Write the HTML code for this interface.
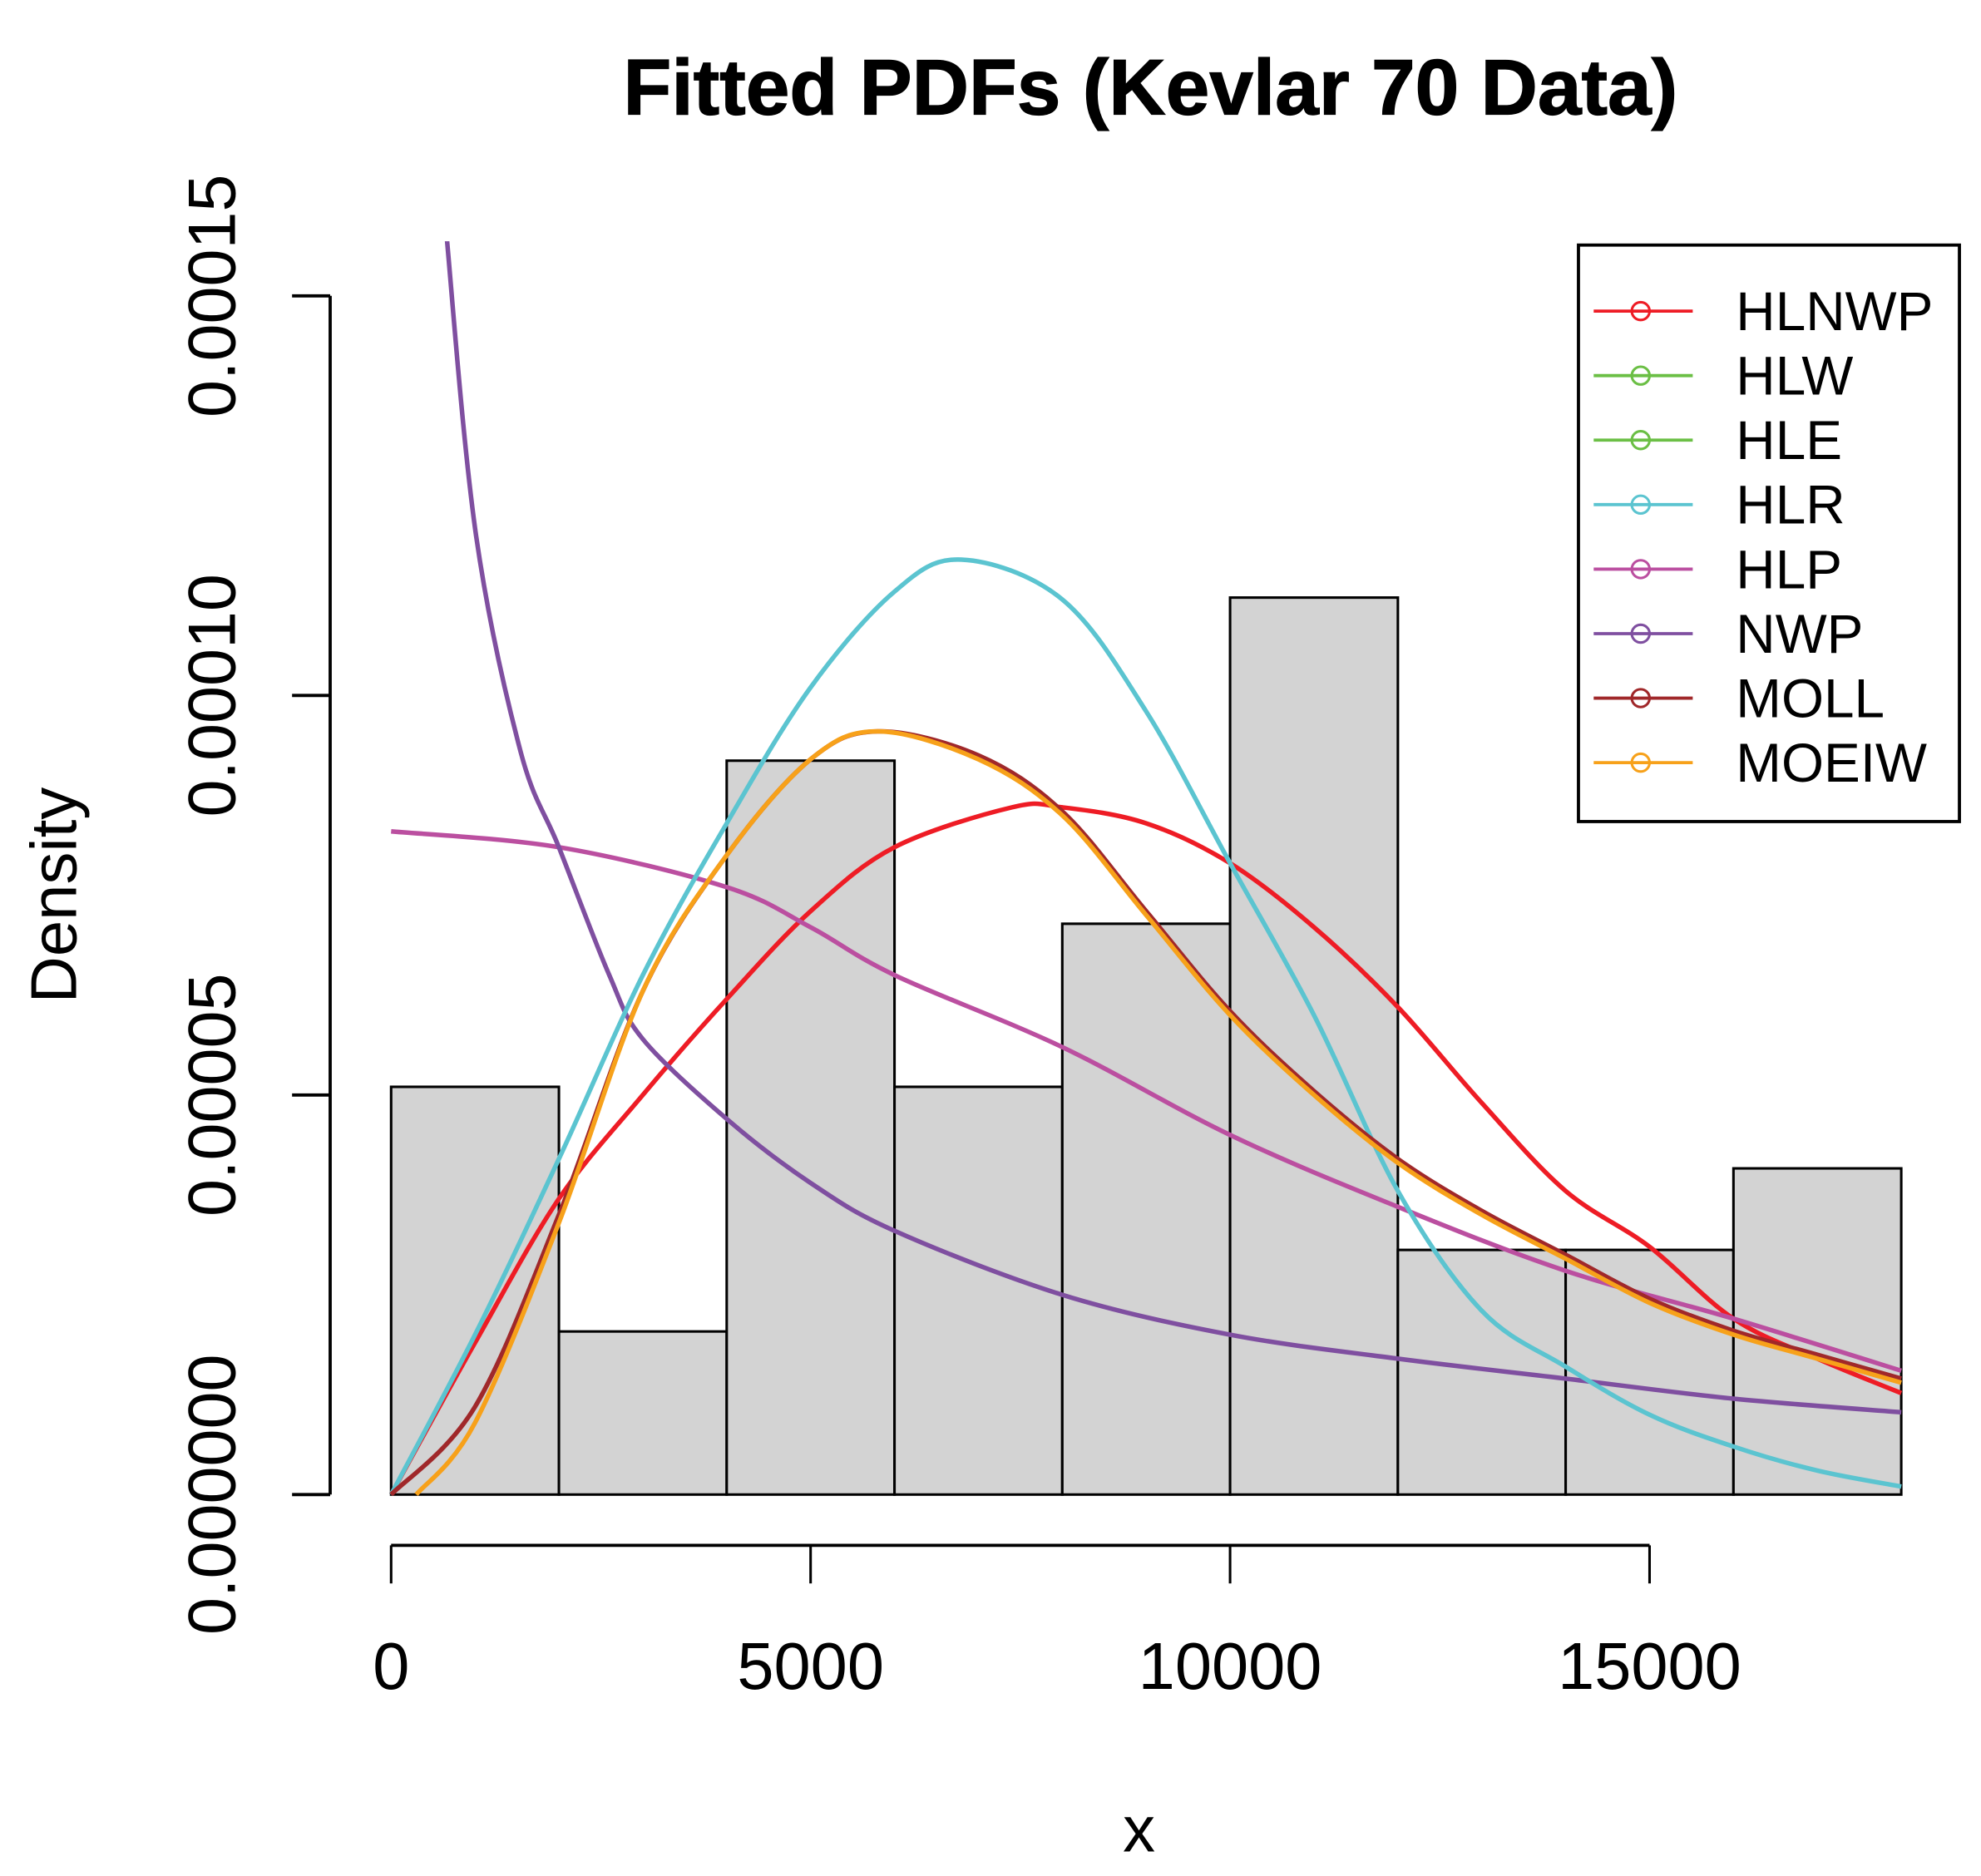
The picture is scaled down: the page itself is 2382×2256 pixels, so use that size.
<!DOCTYPE html>
<html><head><meta charset="utf-8"><style>html,body{margin:0;padding:0;background:#fff}svg{display:block}</style></head>
<body>
<svg id="chart" width="2382" height="2256" viewBox="0 0 1560 1477.4" preserveAspectRatio="none" xmlns="http://www.w3.org/2000/svg" font-family="Liberation Sans, Arial, sans-serif">
<defs><clipPath id="plotclip"><rect x="230" y="190" width="1290" height="1000"/></clipPath></defs>
<text x="906" y="90" text-anchor="middle" font-size="62" font-weight="bold" stroke="#000" stroke-width="0.8">Fitted PDFs (Kevlar 70 Data)</text>
<text transform="translate(60,705) rotate(-90)" text-anchor="middle" font-size="51">Density</text>
<text x="897" y="1458" text-anchor="middle" font-size="51">x</text>
<g id="bars"></g>
<g id="curves" clip-path="url(#plotclip)"></g>
<g id="yaxis"></g>
<g id="xaxis"></g>
<g id="legend"></g>
</svg>
<script>
const binEdges = [0,2000,4000,6000,8000,10000,12000,14000,16000,18000];
const binCounts = [5,2,9,5,7,11,3,3,4];
const sampleSize = 49;
const yTicks = [0,0.00005,0.0001,0.00015];
const yTickLabels = ["0.000000","0.00005","0.00010","0.00015"];
const xTicks = [0,5000,10000,15000];
const xTickLabels = ["0","5000","10000","15000"];
const seriesNames = ["HLNWP","HLW","HLE","HLR","HLP","NWP","MOLL","MOEIW"];
const seriesColors = ["#ee1c25","#6bbf45","#6bbf45","#5bc4d0","#bb4fa0","#7f4fa0","#a0282a","#f7a11a"];
// curve values (x, density in units of 1e-5)
const hlnwpX = [0,1000,2000,3000,4000,5000,6000,7400,8000,9000,10000,11000,12000,13000,14000,15000,16000,17000,18000];
const hlnwpY = [0,1.9,3.7,5.0,6.2,7.3,8.1,8.6,8.6,8.4,7.9,7.1,6.1,4.9,3.8,3.1,2.2,1.7,1.27];
const hlrX = [0,1000,2000,3000,4000,5000,6000,6800,8000,9000,10000,11000,12000,13000,14000,15000,16000,17000,18000];
const hlrY = [0,2.0,4.2,6.5,8.4,10.1,11.3,11.7,11.2,9.8,7.9,6.0,3.8,2.3,1.6,1.0,0.6,0.3,0.1];
const moeiwX = [300,1000,2000,3000,4000,5000,5800,7000,8000,9000,10000,11000,12000,13000,14000,15000,16000,17000,18000];
const moeiwY = [0,0.9,3.4,6.3,8.0,9.2,9.55,9.2,8.5,7.25,6.0,5.0,4.15,3.5,2.95,2.4,2.0,1.7,1.4];
const mollX = [0,1000,2000,3000,4000,5000,5800,7000,8000,9000,10000,11000,12000,13000,14000,15000,16000,17000,18000];
const mollY = [0,1.1,3.5,6.3,8.0,9.2,9.55,9.25,8.55,7.3,6.05,5.05,4.2,3.55,3.0,2.45,2.05,1.75,1.45];
const hlpX = [0,2000,4000,5000,6000,8000,10000,12000,14000,16000,18000];
const hlpY = [8.3,8.1,7.6,7.1,6.5,5.6,4.5,3.6,2.8,2.2,1.55];
const nwpX = [550,666,1013,1543,2000,2600,3000,4000,5000,6000,8000,10000,12000,14000,16000,18000];
const nwpY = [17.5,15.7,12.0,9.3,8.1,6.5,5.7,4.7,3.9,3.3,2.5,2.0,1.7,1.45,1.2,1.03];

const NS="http://www.w3.org/2000/svg";
function xs(v){return 308+(v/15000)*(1299-308);}
function ys(v){return 1177-(v/0.00015)*(1177-233);}
function mk(tag,attrs,parent){const e=document.createElementNS(NS,tag);for(const k in attrs)e.setAttribute(k,attrs[k]);parent.appendChild(e);return e;}
function smoothPath(P){
  let d='M'+P[0][0].toFixed(1)+','+P[0][1].toFixed(1);
  for(let i=0;i<P.length-1;i++){
    const p0=P[Math.max(i-1,0)],p1=P[i],p2=P[i+1],p3=P[Math.min(i+2,P.length-1)];
    const c1=[p1[0]+(p2[0]-p0[0])/6,p1[1]+(p2[1]-p0[1])/6];
    const c2=[p2[0]-(p3[0]-p1[0])/6,p2[1]-(p3[1]-p1[1])/6];
    d+=' C'+c1[0].toFixed(1)+','+c1[1].toFixed(1)+' '+c2[0].toFixed(1)+','+c2[1].toFixed(1)+' '+p2[0].toFixed(1)+','+p2[1].toFixed(1);
  }
  return d;
}

const bars=document.getElementById('bars');
binCounts.forEach((c,i)=>{
  const d=c/(sampleSize*(binEdges[i+1]-binEdges[i]));
  const r=mk('rect',{x:xs(binEdges[i]),y:ys(d),width:xs(binEdges[i+1])-xs(binEdges[i]),height:ys(0)-ys(d),fill:'#d3d3d3',stroke:'#000','stroke-width':2},bars);
  
  
});

const curves=document.getElementById('curves');
const curveData=[[hlnwpX,hlnwpY,0],[hlpX,hlpY,4],[nwpX,nwpY,5],[hlrX,hlrY,3],[mollX,mollY,6],[moeiwX,moeiwY,7]];
curveData.forEach(([X,Y,ci])=>{
  const P=X.map((x,i)=>[xs(x),ys(Y[i]*1e-5)]);
  const p=mk('path',{d:smoothPath(P),fill:'none',stroke:seriesColors[ci],'stroke-width':3.6,'stroke-linejoin':'round'},curves);
  
  
});

const ya=document.getElementById('yaxis');
mk('line',{x1:260,y1:ys(yTicks[0]),x2:260,y2:ys(yTicks[yTicks.length-1]),stroke:'#000','stroke-width':2.5},ya);
yTicks.forEach((t,i)=>{
  mk('line',{x1:230,y1:ys(t),x2:260,y2:ys(t),stroke:'#000','stroke-width':2.5},ya);
  const tx=mk('text',{transform:`translate(185,${ys(t)}) rotate(-90)`,'text-anchor':'middle','font-size':53},ya);
  tx.textContent=yTickLabels[i];
  
  
});

const xa=document.getElementById('xaxis');
mk('line',{x1:xs(xTicks[0]),y1:1217,x2:xs(xTicks[xTicks.length-1]),y2:1217,stroke:'#000','stroke-width':2.5},xa);
xTicks.forEach((t,i)=>{
  mk('line',{x1:xs(t),y1:1217,x2:xs(t),y2:1247,stroke:'#000','stroke-width':2},xa);
  const tx=mk('text',{x:xs(t),y:1330,'text-anchor':'middle','font-size':52},xa);
  tx.textContent=xTickLabels[i];
  
  
});

const lg=document.getElementById('legend');
mk('rect',{x:1243,y:193,width:300,height:454,fill:'#fff',stroke:'#000','stroke-width':2.5},lg);
seriesNames.forEach((n,i)=>{
  const y=245+i*50.8;
  const g=mk('g',{},lg);
  
  
  mk('line',{x1:1255,y1:y,x2:1333,y2:y,stroke:seriesColors[i],'stroke-width':2.5},g);
  mk('ellipse',{cx:1292,cy:y,rx:7,ry:7,fill:'none',stroke:seriesColors[i],'stroke-width':2},g);
  const t=mk('text',{x:1367,y:y+15,'font-size':43},g);
  t.textContent=n;
});
</script>
</body></html>
